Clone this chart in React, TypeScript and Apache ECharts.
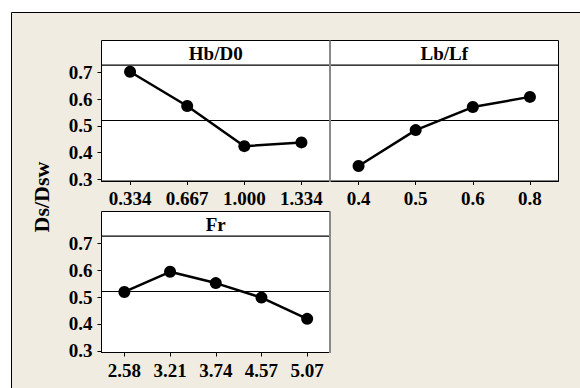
import React, { useEffect, useRef } from "react";
import * as echarts from "echarts";

const hbCats = ["0.334", "0.667", "1.000", "1.334"];
const hbVals = [0.702, 0.574, 0.424, 0.438];
const lbCats = ["0.4", "0.5", "0.6", "0.8"];
const lbVals = [0.35, 0.484, 0.57, 0.608];
const frCats = ["2.58", "3.21", "3.74", "4.57", "5.07"];
const frVals = [0.519, 0.594, 0.552, 0.498, 0.419];
const meanValue = 0.517;
const yTicks = [0.3, 0.4, 0.5, 0.6, 0.7];
const panelTitles = ["Hb/D0", "Lb/Lf", "Fr"];
const yTitle = "Ds/Dsw";

const FONT = "'Liberation Serif', 'Times New Roman', serif";

export default function App() {
  const ref = useRef<HTMLDivElement>(null);
  useEffect(() => {
    if (!ref.current) return;
    const chart = echarts.init(ref.current, undefined, { renderer: "svg" });
    const grids = [
      { left: 101.5, top: 65, width: 228.5, height: 116 },
      { left: 330, top: 65, width: 228.5, height: 116 },
      { left: 101.5, top: 236, width: 228.5, height: 116.5 },
    ];
    const cats = [hbCats, lbCats, frCats];
    const vals = [hbVals, lbVals, frVals];
    const labelStyle = {
      fontFamily: FONT,
      fontWeight: "bold" as const,
      fontSize: 19,
      color: "#000",
    };
    const option: any = {
      animation: false,
      backgroundColor: "#ffffff",
      grid: grids.map((g) => ({
        ...g,
        show: true,
        backgroundColor: "#ffffff",
        borderColor: "#000",
        borderWidth: 1,
        containLabel: false,
      })),
      xAxis: cats.map((c, i) => ({
        type: "category",
        gridIndex: i,
        data: c,
        boundaryGap: true,
        axisLine: { show: true, lineStyle: { color: "#000", width: 1 } },
        axisTick: { show: true, alignWithLabel: true, length: 4, lineStyle: { color: "#000" } },
        axisLabel: { ...labelStyle, margin: 8, interval: 0 },
        splitLine: { show: false },
      })),
      yAxis: cats.map((_, i) => ({
        type: "value",
        gridIndex: i,
        min: 0.294,
        max: 0.727,
        axisLine: { show: true, lineStyle: { color: "#000", width: 1 } },
        axisTick: {
          show: i !== 1,
          length: 4,
          customValues: yTicks,
          lineStyle: { color: "#000" },
        },
        axisLabel: {
          show: i !== 1,
          ...labelStyle,
          margin: 9,
          customValues: yTicks,
          formatter: (v: number) => v.toFixed(1),
        },
        splitLine: { show: false },
      })),
      graphic: [
        {
          type: "rect",
          z: -10,
          shape: { x: 11.5, y: 12.5, width: 600, height: 400 },
          style: { fill: "#F0ECE2", stroke: "#000", lineWidth: 1 },
        },
        ...[
          { x: 101.5, y: 40.5, w: 228.5 },
          { x: 330, y: 40.5, w: 228.5 },
          { x: 101.5, y: 211.5, w: 228.5 },
        ].map((p, i) => ({
          type: "group",
          z: 50,
          children: [
            {
              type: "rect",
              shape: { x: p.x, y: p.y, width: p.w, height: 24.5 },
              style: { fill: "#fff", stroke: "#000", lineWidth: 1 },
            },
            {
              type: "text",
              x: p.x + p.w / 2,
              y: p.y + 12.5,
              style: {
                text: panelTitles[i],
                font: `bold 19px ${FONT}`,
                fill: "#000",
                align: "center",
                verticalAlign: "middle",
              },
            },
          ],
        })),
        {
          type: "line",
          z: 100,
          shape: { x1: 330, y1: 40.5, x2: 330, y2: 182 },
          style: { stroke: "#8a8a8a", lineWidth: 2 },
        },
        {
          type: "line",
          z: 100,
          shape: { x1: 330, y1: 211.5, x2: 330, y2: 353 },
          style: { stroke: "#8a8a8a", lineWidth: 2 },
        },
        {
          type: "text",
          z: 100,
          x: 41,
          y: 197,
          rotation: Math.PI / 2,
          style: {
            text: yTitle,
            font: `bold 22px ${FONT}`,
            fill: "#000",
            align: "center",
            verticalAlign: "middle",
          },
        },
      ],
      series: vals.map((v, i) => ({
        type: "line",
        xAxisIndex: i,
        yAxisIndex: i,
        data: v,
        symbol: "circle",
        symbolSize: 12,
        lineStyle: { color: "#000", width: 2.5 },
        itemStyle: { color: "#000" },
        z: 5,
        markLine: {
          silent: true,
          symbol: "none",
          label: { show: false },
          lineStyle: { color: "#000", width: 1, type: "solid" },
          data: [{ yAxis: meanValue }],
        },
      })),
    };
    chart.setOption(option);
    return () => chart.dispose();
  }, []);
  return (
    <div
      ref={ref}
      style={{ position: "fixed", left: 0, top: 0, width: 580, height: 388 }}
    />
  );
}
